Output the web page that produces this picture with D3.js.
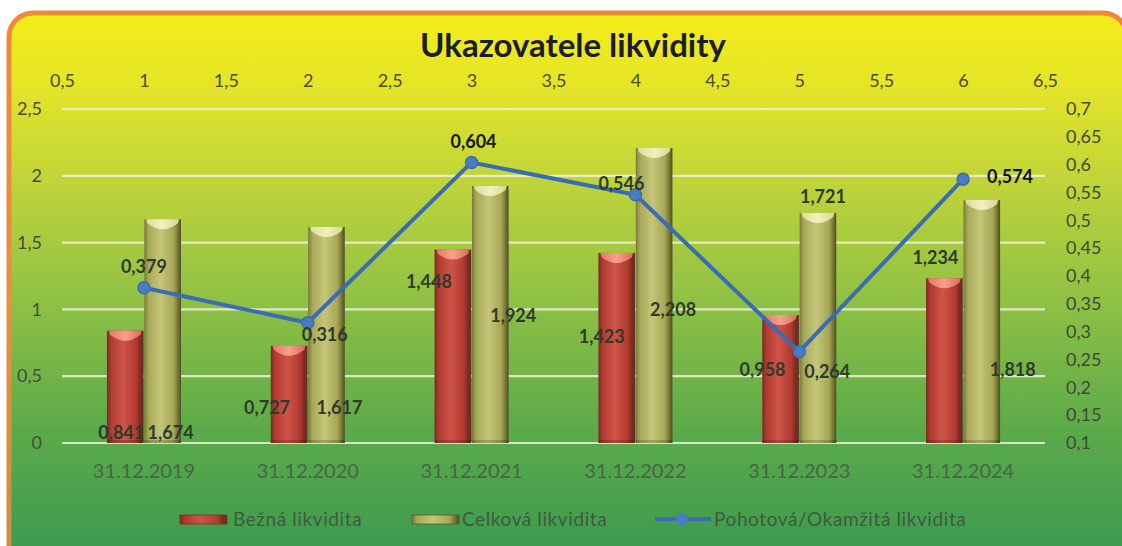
<!DOCTYPE html>
<html><head><meta charset="utf-8">
<script src="https://cdn.jsdelivr.net/npm/d3@7"></script>
<style>html,body{margin:0;padding:0;background:#fff;}svg{display:block;font-family:Lato,"Open Sans",sans-serif;}</style>
</head><body>
<svg id="chart" width="1122" height="546"></svg>
<script>
// ---- data ----
const categories = ["31.12.2019","31.12.2020","31.12.2021","31.12.2022","31.12.2023","31.12.2024"];
const seriesNames = ["Bežná likvidita","Celková likvidita","Pohotová/Okamžitá likvidita"];
const bezna = [0.841,0.727,1.448,1.423,0.958,1.234];
const celkova = [1.674,1.617,1.924,2.208,1.721,1.818];
const pohotova = [0.379,0.316,0.604,0.546,0.264,0.574];
const leftTicks = [0,0.5,1,1.5,2,2.5];
const rightTicks = [0.1,0.15,0.2,0.25,0.3,0.35,0.4,0.45,0.5,0.55,0.6,0.65,0.7];
const topTicks = [0.5,1,1.5,2,2.5,3,3.5,4,4.5,5,5.5,6,6.5];
const title = "Ukazovatele likvidity";

// ---- label placement (layout, in px offsets / axis units) ----
const redLabelDx = [-4,-22,-24,-15,-18,-9];
const redLabelAt = [0.075,0.262,1.205,0.793,0.546,1.385];
const oliveLabelDx = [8,13,23,19,5,31];
const oliveLabelAt = [0.075,0.262,0.95,0.995,1.84,0.546];
const lineLabelOff = [[0,-21],[17,12],[2,-21],[-14,-11],[28,20],[47,-2]];

const svg = d3.select("#chart");
const L = 62, R = 1045, T = 109, B = 443;
const loc = d3.formatLocale({decimal:",",thousands:" ",grouping:[3],currency:["","€"]});
const fmt3 = loc.format(".3f");
const fmtT = v => String(+v.toFixed(2)).replace(".",",");
const FF = "Lato,'Open Sans',sans-serif";

const defs = svg.append("defs");
const bg = defs.append("linearGradient").attr("id","bg").attr("x1",0).attr("y1",0).attr("x2",0).attr("y2",1);
[[0,"#f4ec1a"],[0.12,"#e6e626"],[0.3,"#c0d43a"],[0.5,"#92c244"],[0.75,"#5aaa4a"],[1,"#379850"]].forEach(s=>bg.append("stop").attr("offset",s[0]).attr("stop-color",s[1]));
const bd = defs.append("linearGradient").attr("id","bd").attr("x1",0).attr("y1",0).attr("x2",0).attr("y2",1);
[[0,"#f0883a"],[0.5,"#e89040"],[1,"#c89040"]].forEach(s=>bd.append("stop").attr("offset",s[0]).attr("stop-color",s[1]));
function cyl(id, stops){
  const g = defs.append("linearGradient").attr("id",id).attr("x1",0).attr("y1",0).attr("x2",1).attr("y2",0);
  stops.forEach(s=>g.append("stop").attr("offset",s[0]).attr("stop-color",s[1]));
}
cyl("gRed",[[0,"#7a2a22"],[0.12,"#b23c32"],[0.45,"#cf5448"],[0.8,"#b03a30"],[0.92,"#7e2820"],[1,"#4e3a2a"]]);
cyl("gOl",[[0,"#7a7a38"],[0.12,"#a9a95a"],[0.45,"#c6c67a"],[0.8,"#a6a656"],[0.92,"#75752e"],[1,"#4a4a30"]]);
cyl("gRedTop",[[0,"#e87868"],[0.5,"#f6a090"],[1,"#e06a5a"]]);
cyl("gOlTop",[[0,"#dede9a"],[0.5,"#f0f0c0"],[1,"#d8d890"]]);

svg.append("rect").attr("x",9).attr("y",13).attr("width",1118).attr("height",560).attr("rx",24)
  .attr("fill","url(#bg)").attr("stroke","url(#bd)").attr("stroke-width",5);

const xTop = d3.scaleLinear().domain([0.5,6.5]).range([L,R]);
const xCat = d3.scaleBand().domain(categories).range([L,R]).padding(0);
const yL = d3.scaleLinear().domain([0,2.5]).range([B,T]);
const yR = d3.scaleLinear().domain([0.1,0.7]).range([B,T]);
const barW = 37;
const xSub = d3.scaleBand().domain(["b","c"]).range([xCat.bandwidth()/2-barW, xCat.bandwidth()/2+barW]).paddingInner(0.02);

svg.append("g").selectAll("line").data(leftTicks).join("line")
  .attr("x1",L).attr("x2",R).attr("y1",d=>yL(d)).attr("y2",d=>yL(d))
  .attr("stroke","#eef0d8").attr("stroke-opacity",0.85).attr("stroke-width",2.2);

svg.append("text").attr("x",573).attr("y",57).attr("text-anchor","middle")
  .attr("font-size",33).attr("font-weight",700).attr("fill","#1c1c2a").text(title);

const gTop = svg.append("g").attr("transform",`translate(0,${T-22})`)
  .call(d3.axisTop(xTop).tickValues(topTicks).tickSize(0).tickPadding(0).tickFormat(fmtT));
gTop.select(".domain").remove();
gTop.selectAll("text").attr("font-size",18).attr("fill","#4a4a3a").attr("font-family",FF);

const gL = svg.append("g").attr("transform",`translate(42,0)`)
  .call(d3.axisLeft(yL).tickValues(leftTicks).tickSize(0).tickPadding(0).tickFormat(fmtT));
gL.select(".domain").remove();
gL.selectAll("text").attr("font-size",18).attr("fill","#4a4a3a").attr("font-family",FF);

const gR = svg.append("g").attr("transform",`translate(1066,0)`)
  .call(d3.axisRight(yR).tickValues(rightTicks).tickSize(0).tickPadding(0).tickFormat(fmtT));
gR.select(".domain").remove();
gR.selectAll("text").attr("font-size",18).attr("fill","#3e4a36").attr("font-family",FF);

const gB = svg.append("g").attr("transform",`translate(0,${B+17})`)
  .call(d3.axisBottom(xCat).tickSize(0).tickPadding(4));
gB.select(".domain").remove();
gB.selectAll("text").attr("font-size",20).attr("fill","#4a6448").attr("font-family",FF);

function drawBars(vals, key, fill, topFill){
  const g = svg.append("g");
  vals.forEach((v,i)=>{
    const x0 = xCat(categories[i]) + xSub(key), w = xSub.bandwidth();
    const y0 = yL(v), h = yL(0)-yL(v);
    g.append("rect").attr("x",x0).attr("y",y0).attr("width",w).attr("height",h).attr("fill",fill);
    g.append("path").attr("d",`M${x0+2},${y0} L${x0+w-2},${y0} L${x0+w-3},${y0+4} Q${x0+w/2},${y0+16} ${x0+3},${y0+4} Z`)
      .attr("fill",topFill);
    g.append("rect").attr("x",x0).attr("y",yL(0)-3).attr("width",w).attr("height",3).attr("fill","#000").attr("opacity",0.18);
  });
}
drawBars(bezna,"b","url(#gRed)","url(#gRedTop)");
drawBars(celkova,"c","url(#gOl)","url(#gOlTop)");

const cx = i => xTop(i+1);
const line = d3.line().x((d,i)=>cx(i)).y(d=>yR(d));
svg.append("path").datum(pohotova).attr("d",line).attr("fill","none")
  .attr("stroke","#3a6cb4").attr("stroke-width",4).attr("stroke-linejoin","round");
svg.append("g").selectAll("circle").data(pohotova).join("circle")
  .attr("cx",(d,i)=>cx(i)).attr("cy",d=>yR(d)).attr("r",6).attr("fill","#4a7cc4").attr("stroke","#3a6cb4").attr("stroke-width",1.5);

const lab = svg.append("g").attr("font-size",18).attr("font-weight",700).attr("text-anchor","middle").attr("fill","#2e3a2a");
bezna.forEach((v,i)=>{
  const xc = xCat(categories[i]) + xSub("b") + xSub.bandwidth()/2 + redLabelDx[i];
  lab.append("text").attr("x",xc).attr("y",yL(redLabelAt[i])).attr("dy","0.35em").text(fmt3(v));
});
celkova.forEach((v,i)=>{
  const xc = xCat(categories[i]) + xSub("c") + xSub.bandwidth()/2 + oliveLabelDx[i];
  lab.append("text").attr("x",xc).attr("y",yL(oliveLabelAt[i])).attr("dy","0.35em").text(fmt3(v));
});
pohotova.forEach((v,i)=>{
  const dark = (v===0.604||v===0.574);
  lab.append("text").attr("x",cx(i)+lineLabelOff[i][0]).attr("y",yR(v)+lineLabelOff[i][1]).attr("dy","0.35em")
    .attr("fill",dark?"#141414":"#2e3a2a").text(fmt3(v));
});

const lg = svg.append("g").attr("font-size",19).attr("fill","#3f5a3f").attr("letter-spacing",0.6);
const ly = 519;
lg.append("rect").attr("x",180).attr("y",ly-4).attr("width",47).attr("height",9).attr("fill","url(#gRed)").attr("stroke","#8a2a22").attr("stroke-width",0.8);
lg.append("text").attr("x",233).attr("y",ly).attr("dy","0.35em").text(seriesNames[0]);
lg.append("rect").attr("x",412).attr("y",ly-4).attr("width",47).attr("height",9).attr("fill","url(#gOl)").attr("stroke","#5a5a2a").attr("stroke-width",0.8);
lg.append("text").attr("x",462).attr("y",ly).attr("dy","0.35em").text(seriesNames[1]);
lg.append("line").attr("x1",655).attr("x2",711).attr("y1",ly).attr("y2",ly).attr("stroke","#3a6cb4").attr("stroke-width",4);
lg.append("circle").attr("cx",682).attr("cy",ly).attr("r",6).attr("fill","#4a7cc4");
lg.append("text").attr("x",714).attr("y",ly).attr("dy","0.35em").text(seriesNames[2]);
</script>
</body></html>
